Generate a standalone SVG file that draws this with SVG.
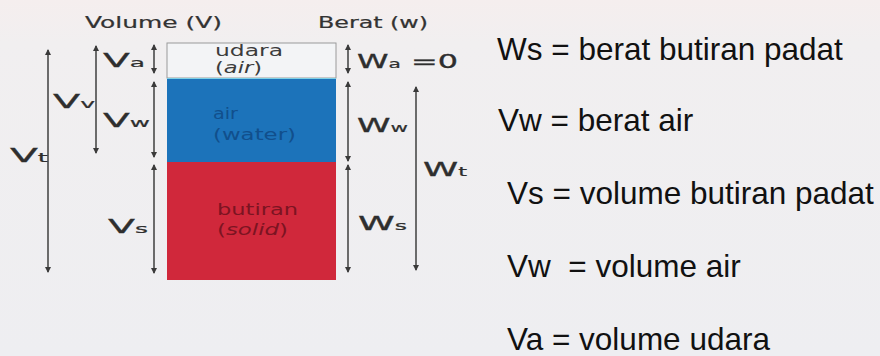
<svg xmlns="http://www.w3.org/2000/svg" width="880" height="356" viewBox="0 0 880 356">
  <defs>
    <linearGradient id="bg" x1="0" y1="0" x2="0" y2="1">
      <stop offset="0" stop-color="#f5eeee"/>
      <stop offset="0.12" stop-color="#f1eff0"/>
      <stop offset="1" stop-color="#eeeef1"/>
    </linearGradient>
    <marker id="tip" viewBox="0 0 6 6" refX="5" refY="3" markerWidth="6" markerHeight="6" markerUnits="userSpaceOnUse" orient="auto-start-reverse">
      <path d="M0,0 L6,3 L0,6 Z" fill="#3a3a3a"/>
    </marker>
    <style>
      .dim { stroke: #4a4a4a; stroke-width: 1.6; fill: none; marker-start: url(#tip); marker-end: url(#tip); }
      .lbl { font-family: "DejaVu Sans", "Liberation Sans", sans-serif; fill: #2e2e2e; stroke: #2e2e2e; stroke-width: 0.3; }
      .big { font-size: 19px; }
      .sub { font-size: 12px; stroke-width: 0.2; }
      .head { font-family: "DejaVu Sans", "Liberation Sans", sans-serif; font-size: 15px; fill: #333; stroke: #333; stroke-width: 0.2; }
      .inner { font-family: "DejaVu Sans", "Liberation Sans", sans-serif; font-size: 15px; }
      .def { font-family: "Liberation Sans", Arial, sans-serif; font-size: 31.5px; fill: #111; }
    </style>
  </defs>

  <rect x="0" y="0" width="880" height="356" fill="url(#bg)"/>

  <g id="headers">
    <text class="head" x="85" y="28" textLength="137" lengthAdjust="spacingAndGlyphs">Volume (V)</text>
    <text class="head" x="318" y="28" textLength="110" lengthAdjust="spacingAndGlyphs">Berat (w)</text>
  </g>

  <g id="soil-column">
    <g id="layer-air">
      <rect x="167" y="43" width="169" height="35" fill="#f3f4f6" stroke="#9a9a9a" stroke-width="1"/>
      <text class="inner" x="215" y="56" fill="#3c3c3c" textLength="68" lengthAdjust="spacingAndGlyphs">udara</text>
      <text class="inner" x="215" y="73" fill="#3c3c3c" textLength="47" lengthAdjust="spacingAndGlyphs">(<tspan font-style="italic">air</tspan>)</text>
    </g>
    <g id="layer-water">
      <rect x="167" y="78" width="169" height="84" fill="#1c73ba"/>
      <line x1="167" y1="78.5" x2="336" y2="78.5" stroke="#7fd0e6" stroke-width="1"/>
      <text class="inner" x="213" y="119" fill="#114f8c" textLength="25" lengthAdjust="spacingAndGlyphs">air</text>
      <text class="inner" x="213" y="140" fill="#114f8c" textLength="83" lengthAdjust="spacingAndGlyphs">(water)</text>
    </g>
    <g id="layer-solid">
      <rect x="167" y="162" width="169" height="118" fill="#d0283b"/>
      <text class="inner" x="217" y="215" fill="#7c1422" textLength="81" lengthAdjust="spacingAndGlyphs">butiran</text>
      <text class="inner" x="217" y="235" fill="#7c1422" textLength="71" lengthAdjust="spacingAndGlyphs">(<tspan font-style="italic">solid</tspan>)</text>
    </g>
  </g>

  <g id="connectors">
    <line class="dim" x1="48" y1="50" x2="48" y2="272"/>
    <line class="dim" x1="96" y1="46" x2="96" y2="153"/>
    <line class="dim" x1="154" y1="45" x2="154" y2="73"/>
    <line class="dim" x1="154" y1="82" x2="154" y2="157"/>
    <line class="dim" x1="154" y1="165" x2="154" y2="273"/>
    <line class="dim" x1="348" y1="45" x2="348" y2="73"/>
    <line class="dim" x1="348" y1="82" x2="348" y2="161"/>
    <line class="dim" x1="348" y1="165" x2="348" y2="272"/>
    <line class="dim" x1="416" y1="87" x2="416" y2="270"/>
  </g>

  <g id="label-Vt"><text class="lbl big" x="10" y="162" textLength="38" lengthAdjust="spacingAndGlyphs">V<tspan class="sub">t</tspan></text></g>
  <g id="label-Vv"><text class="lbl big" x="53" y="108" textLength="42" lengthAdjust="spacingAndGlyphs">V<tspan class="sub">v</tspan></text></g>
  <g id="label-Va"><text class="lbl big" x="103" y="67" textLength="42" lengthAdjust="spacingAndGlyphs">V<tspan class="sub">a</tspan></text></g>
  <g id="label-Vw"><text class="lbl big" x="103" y="127" textLength="47" lengthAdjust="spacingAndGlyphs">V<tspan class="sub">w</tspan></text></g>
  <g id="label-Vs"><text class="lbl big" x="108" y="233" textLength="40" lengthAdjust="spacingAndGlyphs">V<tspan class="sub">s</tspan></text></g>
  <g id="label-Wa"><text class="lbl big" x="357" y="68" textLength="101" lengthAdjust="spacingAndGlyphs">W<tspan class="sub">a</tspan> =0</text></g>
  <g id="label-Ww"><text class="lbl big" x="357" y="132" textLength="51" lengthAdjust="spacingAndGlyphs">W<tspan class="sub">w</tspan></text></g>
  <g id="label-Wt"><text class="lbl big" x="423" y="176" textLength="44" lengthAdjust="spacingAndGlyphs">W<tspan class="sub">t</tspan></text></g>
  <g id="label-Ws"><text class="lbl big" x="358" y="230" textLength="49" lengthAdjust="spacingAndGlyphs">W<tspan class="sub">s</tspan></text></g>

  <g id="definitions">
    <text class="def" x="497" y="60">Ws = berat butiran padat</text>
    <text class="def" x="498" y="131">Vw = berat air</text>
    <text class="def" x="507" y="204">Vs = volume butiran padat</text>
    <text class="def" x="507" y="277" xml:space="preserve">Vw  = volume air</text>
    <text class="def" x="507" y="350">Va = volume udara</text>
  </g>
</svg>
